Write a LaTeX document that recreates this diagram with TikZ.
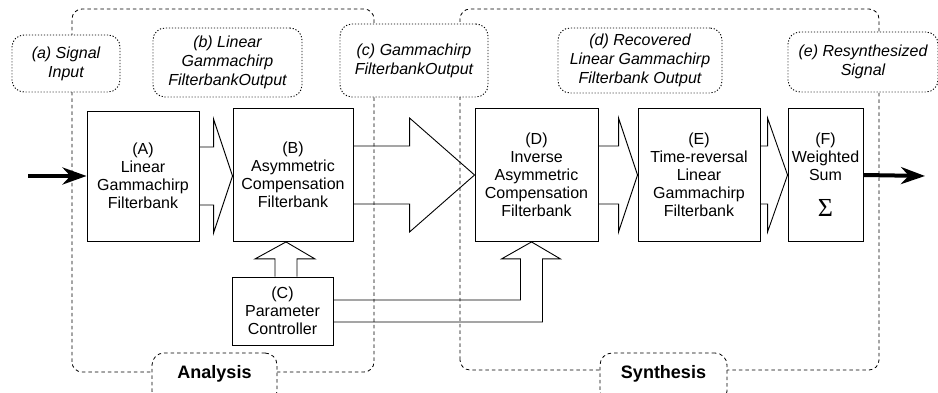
\documentclass[tikz,border=0pt]{standalone}
\usepackage{fontspec}
\setmainfont{Liberation Sans}
\newfontfamily\sigmafont{Liberation Serif}
\usepackage{tikz}
\usetikzlibrary{arrows.meta,calc}

\newcommand{\fatarrow}[3]{%
  \draw let \p1=(#1.east), \p2=(#2.west) in
    (\x1,\y1+29pt) -- (\x2-#3,\y1+29pt) -- (\x2-#3,\y1+57pt) -- (\x2,\y1)
    -- (\x2-#3,\y1-57pt) -- (\x2-#3,\y1-29pt) -- (\x1,\y1-29pt);}

\begin{document}
\begin{tikzpicture}[x=1pt,y=1pt,line width=0.9pt,
  blk/.style={draw,align=center,inner sep=0pt,font=\fontsize{16}{18}\selectfont},
  lbl/.style={draw,dash pattern=on 1.2pt off 1.8pt,rounded corners=12pt,fill=white,align=center,inner sep=0pt,font=\fontsize{16}{19}\selectfont\itshape},
  region/.style={dash pattern=on 3.5pt off 3pt,line width=0.8pt,rounded corners=10pt},
  part/.style={draw,dash pattern=on 3.5pt off 3pt,line width=0.8pt,rounded corners=12pt,fill=white,inner xsep=0pt,minimum width=#1,text height=19.5pt,text depth=18.5pt,inner ysep=6pt,anchor=base,font=\fontsize{18}{20}\selectfont\bfseries},
  sig/.style={line width=4pt,-{Stealth[length=24pt,width=17pt]}}]
\useasboundingbox (0,0) rectangle (938,393);

\draw[region] (72,21) rectangle (374,384);
\draw[region] (460,23) rectangle (879,384);

\node[lbl,minimum width=108,minimum height=57] (la) at (66,329.5) {(a) Signal\\Input};
\node[lbl,minimum width=149,minimum height=69] (lb) at (227.5,330.5) {(b) Linear\\Gammachirp\\FilterbankOutput};
\node[lbl,minimum width=148,minimum height=73] (lc) at (414,332.5) {(c) Gammachirp\\FilterbankOutput};
\node[lbl,minimum width=164,minimum height=65] (ld) at (640,332.5) {(d) Recovered\\Linear Gammachirp\\Filterbank Output};
\node[lbl,minimum width=150,minimum height=60] (le) at (863,331) {(e) Resynthesized\\Signal};

\node[part=125] (ana) at (214.5,14.5) {Analysis};
\node[part=127] (syn) at (663.5,14.5) {Synthesis};

\node[blk,minimum width=112,minimum height=130] (A) at (143,217) {(A)\\Linear\\Gammachirp\\Filterbank};
\node[blk,minimum width=120,minimum height=133] (B) at (293,218) {(B)\\Asymmetric\\Compensation\\Filterbank};
\node[blk,minimum width=101,minimum height=68] (C) at (282.5,82) {(C)\\Parameter\\Controller};
\node[blk,minimum width=123,minimum height=133] (D) at (536.5,218) {(D)\\Inverse\\Asymmetric\\Compensation\\Filterbank};
\node[blk,minimum width=122,minimum height=133] (E) at (699,218) {(E)\\Time-reversal\\Linear\\Gammachirp\\Filterbank};
\node[blk,minimum width=75,minimum height=133] (F) at (825.5,218) {(F)\\Weighted\\Sum\\[18pt]{\sigmafont\fontsize{26}{26}\selectfont Σ}};

\fatarrow{A}{B}{19pt}
\fatarrow{B}{D}{65pt}
\fatarrow{D}{E}{19pt}
\fatarrow{E}{F}{20pt}

\draw let \p1=(C.north), \p2=(B.south) in
  (\x1-7.5pt,\y1) -- (\x1-7.5pt,\y2-17pt) -- (\x1-27.5pt,\y2-17pt) -- (\x1+3.5pt,\y2)
  -- (\x1+32.5pt,\y2-17pt) -- (\x1+14.5pt,\y2-17pt) -- (\x1+14.5pt,\y1);
\draw let \p1=(C.east), \p2=(D.south) in
  (\x1,\y1+11pt) -| (\x2-16pt,\y2-17pt) -- (\x2-35pt,\y2-17pt) -- (\x2-5pt,\y2)
  -- (\x2+24pt,\y2-17pt) -- (\x2+6pt,\y2-17pt) |- (\x1,\y1-11pt);

\coordinate (in) at (28,217);
\coordinate (out) at (925,217);
\draw[sig] (in) -- (A.west);
\draw[sig] (F.east) -- (out);
\end{tikzpicture}
\end{document}
